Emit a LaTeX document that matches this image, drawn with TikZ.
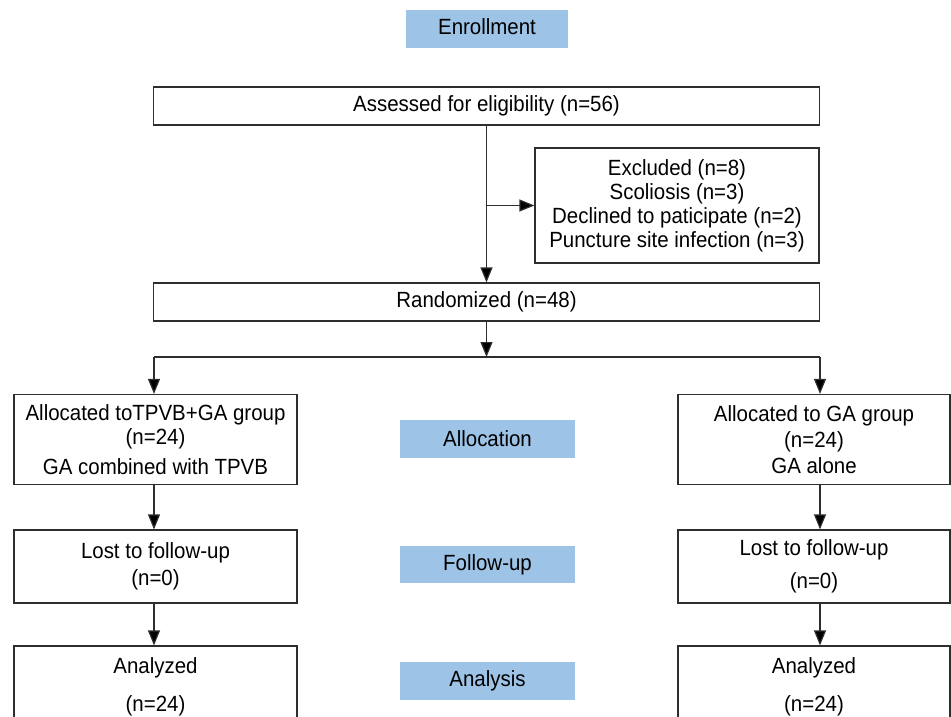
\documentclass[tikz,border=0pt]{standalone}
\usepackage{fontspec}
\setmainfont{Liberation Sans}[FakeStretch=0.93]
\usetikzlibrary{arrows.meta}
\definecolor{lbl}{HTML}{9DC3E6}
\definecolor{ln}{HTML}{2E2E2E}
\tikzset{
  box/.style={draw=ln, line width=1.2pt, fill=white, align=center, inner sep=0pt,
    font=\fontsize{22}{24}\selectfont},
  stage/.style={fill=lbl, inner sep=0pt, align=center,
    font=\fontsize{22}{24}\selectfont},
  arr/.style={draw=ln, line width=1.2pt, -{Triangle[length=15pt,width=12pt,fill=black]}},
  ln/.style={draw=ln, line width=1.2pt}
}
\begin{document}
\begin{tikzpicture}[x=1pt,y=-1pt]
\useasboundingbox (0,0) rectangle (951,717);
% stage labels
\node[stage, minimum width=162pt, minimum height=38pt] (enr) at (487,29) {\raisebox{4pt}{Enrollment}};
\node[stage, minimum width=175pt, minimum height=38pt] (alc) at (487.5,439) {Allocation};
\node[stage, minimum width=175pt, minimum height=37pt] (fol) at (487.5,564.5) {Follow-up};
\node[stage, minimum width=175pt, minimum height=38pt] (ana) at (487.5,681) {Analysis};
% main boxes
\node[box, minimum width=666pt, minimum height=38pt] (ass) at (486.5,106) {\raisebox{3pt}{Assessed for eligibility (n=56)}};
\node[box, minimum width=284pt, minimum height=115pt] (exc) at (677,205.5) {Excluded (n=8)\\Scoliosis (n=3)\\Declined to paticipate (n=2)\\Puncture site infection (n=3)};
\node[box, minimum width=666pt, minimum height=38pt] (rnd) at (486.5,302) {Randomized (n=48)};
\node[box, minimum width=283pt, minimum height=90pt] (al) at (155.5,439.5) {Allocated toTPVB+GA group\\(n=24)\\[6pt]GA combined with TPVB};
\node[box, minimum width=272pt, minimum height=90pt] (ar) at (814,439.5) {Allocated to GA group\\[2pt](n=24)\\[2pt]GA alone};
\node[box, minimum width=283pt, minimum height=73pt] (ll) at (155.5,566.5) {Lost to follow-up\\[3pt](n=0)};
\node[box, minimum width=272pt, minimum height=73pt] (lr) at (814,566.5) {Lost to follow-up\\[9pt](n=0)};
\node[box, minimum width=283pt, minimum height=82pt] (nl) at (155.5,687) {Analyzed\\[14pt](n=24)};
\node[box, minimum width=272pt, minimum height=82pt] (nr) at (814,687) {Analyzed\\[14pt](n=24)};
% connectors
\coordinate (br) at (ass.south |- exc.west);
\coordinate (jm) at (486.5,357);
\coordinate (jl) at (154,357);
\coordinate (jr) at (820,357);
\draw[arr] (ass.south) -- (rnd.north);
\draw[arr] (br) -- (exc.west);
\draw[arr] (rnd.south) -- (jm);
\draw[ln] (jl) -- (jr);
\draw[arr] (jl) -- (jl |- al.north);
\draw[arr] (jr) -- (jr |- ar.north);
\draw[arr] (al.south -| jl) -- (jl |- ll.north);
\draw[arr] (ar.south -| jr) -- (jr |- lr.north);
\draw[arr] (ll.south -| jl) -- (jl |- nl.north);
\draw[arr] (lr.south -| jr) -- (jr |- nr.north);
\end{tikzpicture}
\end{document}
